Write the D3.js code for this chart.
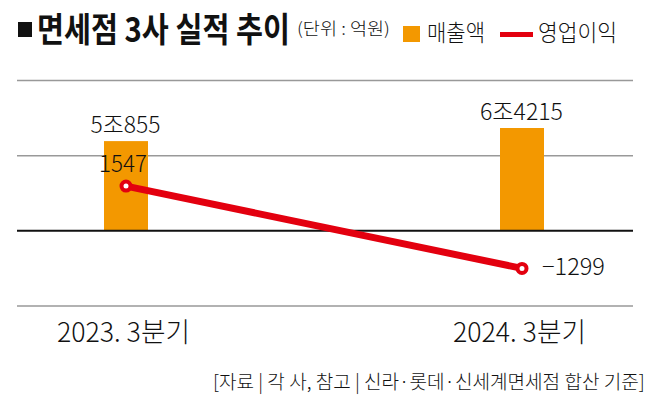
<!DOCTYPE html>
<html><head><meta charset="utf-8">
<script src="https://cdn.jsdelivr.net/npm/d3@7"></script>
<style>
html,body{margin:0;padding:0;background:#fff;}
svg{display:block;}
text{font-family:"Noto Sans CJK KR","Noto Sans",sans-serif;fill:#111;}
</style></head>
<body>
<script>
// Data
const categories = ["2023. 3분기", "2024. 3분기"];
const sales = [50855, 64215];          // 매출액 (억원)
const salesLabels = ["5조855", "6조4215"];
const profit = [1547, -1299];          // 영업이익 (억원)
const profitLabels = ["1547", "−1299"];
const gridTicks = [-2600, 0, 2600, 5200];
const title = "면세점 3사 실적 추이";
const unit = "(단위 : 억원)";
const legendNames = ["매출액", "영업이익"];
const source = "[자료 | 각 사, 참고 | 신라·롯데·신세계면세점 합산 기준]";

const W = 658, H = 417;
const ORANGE = "#F39800", RED = "#E3000F";

const svg = d3.select("body").append("svg").attr("width", W).attr("height", H);

// place text at (x,y) with anchor, horizontally scaled to fit width w
function fitText(str, x0, y0, w, size, weight, anchor) {
  const t = svg.append("text").attr("font-size", size).attr("font-weight", weight).text(str);
  const nat = t.node().getComputedTextLength();
  const s = w / nat;
  let left = x0;
  if (anchor === "middle") left = x0 - w / 2;
  else if (anchor === "end") left = x0 - w;
  t.attr("transform", `translate(${left},${y0}) scale(${s},1)`);
  return t;
}

const x = d3.scalePoint().domain(categories).range([126, 522]);
const yLine = d3.scaleLinear().domain([-2600, 5200]).range([306, 80.5]);
// bar scale (infographic scale with truncated base, baseline at 0 line)
const yBar = d3.scaleLinear().domain([-40600, 64215]).range([yLine(0), 128]);

// gridlines
const gx0 = 17, gx1 = 633;
svg.append("g").selectAll("line").data(gridTicks.filter(d => d !== 0)).join("line")
  .attr("x1", gx0).attr("x2", gx1)
  .attr("y1", d => yLine(d)).attr("y2", d => yLine(d))
  .attr("stroke", "#999").attr("stroke-width", 1.5);

// bars
const bw = 44;
svg.append("g").selectAll("rect").data(sales).join("rect")
  .attr("x", (d, i) => x(categories[i]) - bw / 2)
  .attr("width", bw)
  .attr("y", d => yBar(d))
  .attr("height", d => yBar(-40600) - yBar(d))
  .attr("fill", ORANGE);

// baseline
svg.append("line").attr("x1", gx0).attr("x2", gx1)
  .attr("y1", yLine(0)).attr("y2", yLine(0))
  .attr("stroke", "#111").attr("stroke-width", 2);

// bar labels
const salesLen = [70, 83];
salesLabels.forEach((s, i) => {
  fitText(s, x(categories[i]) - 0.5, yBar(sales[i]) - 8, salesLen[i], 23, 300, "middle");
});

// line
const lineGen = d3.line().x((d, i) => x(categories[i])).y(d => yLine(d));
svg.append("path").datum(profit)
  .attr("d", lineGen)
  .attr("fill", "none").attr("stroke", RED).attr("stroke-width", 7);
svg.append("g").selectAll("circle").data(profit).join("circle")
  .attr("cx", (d, i) => x(categories[i]))
  .attr("cy", d => yLine(d))
  .attr("r", 4.5)
  .attr("fill", "#fff").attr("stroke", RED).attr("stroke-width", 4);

// profit labels
fitText(profitLabels[0], 123, yLine(profit[0]) - 14.5, 48, 23, 300, "middle");
fitText(profitLabels[1], x(categories[1]) + 20, yLine(profit[1]) + 7, 63, 23, 300, "start");

// category labels
categories.forEach(c => fitText(c, x(c) - 2.5, 342, 133, 27, 300, "middle"));

// title
svg.append("rect").attr("x", 18).attr("y", 22).attr("width", 14).attr("height", 15).attr("fill", "#111");
fitText(title, 37, 42, 253, 34, 700, "start");
fitText(unit, 297, 35, 93, 17, 300, "start");

// legend
svg.append("rect").attr("x", 403).attr("y", 26).attr("width", 17).attr("height", 16).attr("fill", ORANGE);
fitText(legendNames[0], 427, 40.5, 58, 23, 300, "start");
svg.append("line").attr("x1", 500).attr("x2", 533).attr("y1", 34.5).attr("y2", 34.5)
  .attr("stroke", RED).attr("stroke-width", 5);
fitText(legendNames[1], 538, 40.5, 79, 23, 300, "start");

// source
fitText(source, 645, 389, 432, 19, 300, "end");
</script>
</body></html>
